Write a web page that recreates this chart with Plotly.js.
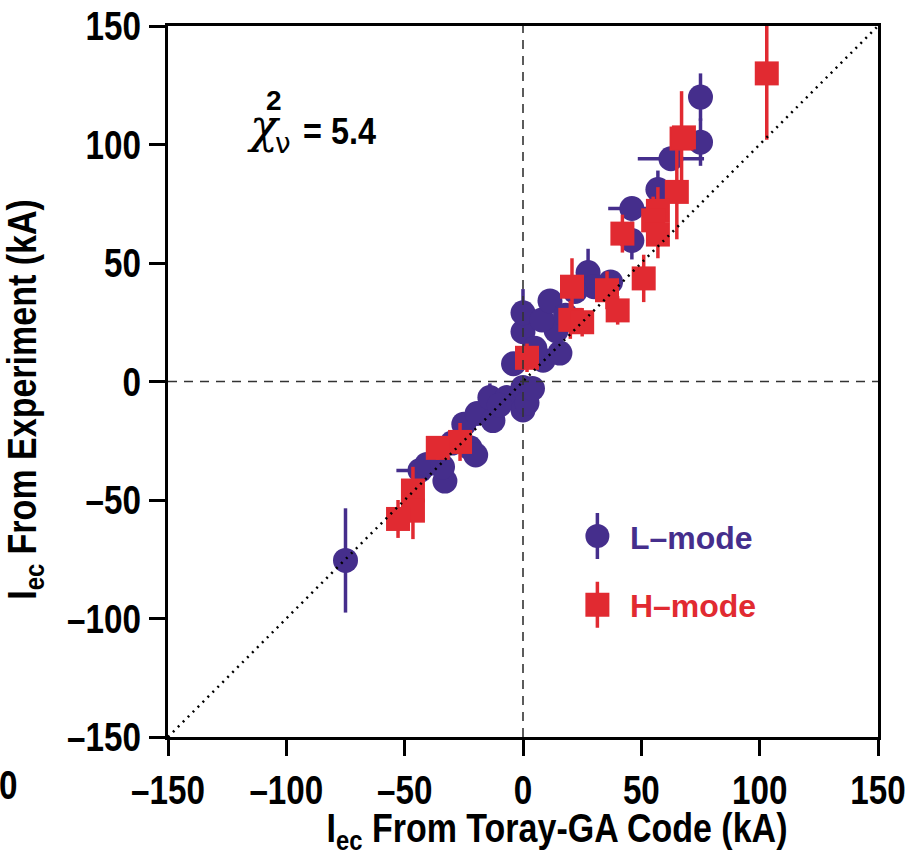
<!DOCTYPE html>
<html>
<head>
<meta charset="utf-8">
<script src="https://cdn.plot.ly/plotly-3.0.1.min.js"></script>
<style>html,body{margin:0;padding:0;background:#fff;}</style>
</head>
<body>
<div id="chart" style="width:918px;height:856px;"></div>
<script>
// ---- data ----
const lmodeX  = [-75, -43.5, -33, -40.6, -34, -22.4, -20, -25, -19.4, -12.7, -14, -6.8, 0, 0, 1.7, -4, 0, 0, 8.5, 15.6, 14, 8, 11.4, 18, 27.5, 37, 30, 22, 46, 46, 57, 62.5, 75, 75, 5, -30, -10, 4];
const lmodeY  = [-75.5, -37.5, -42, -35, -36, -28, -31, -18, -13.5, -16.5, -6.8, -6.8, -12, -2.5, -9, 7.5, 21, 29, 9, 12, 21.5, 26, 34, 28, 46, 42, 40, 38, 59.5, 73, 81, 94, 101, 120, 14, -26, -10, -3];
const lmodeEx = [0, 10, 0, 0, 0, 0, 0, 0, 0, 0, 0, 0, 0, 0, 0, 0, 0, 0, 0, 0, 0, 0, 0, 0, 0, 0, 0, 0, 0, 10, 0, 14, 0, 0, 0, 0, 0, 0];
const lmodeEy = [22, 6, 4, 0, 0, 4, 0, 0, 0, 0, 6, 0, 0, 0, 0, 0, 0, 10, 0, 0, 0, 0, 0, 0, 10, 0, 0, 0, 8, 0, 8, 0, 10, 10, 0, 0, 0, 0];

const hmodeX  = [103, 67, 65, 57, 55, 57, 42, 51, 35.5, 40, 20.7, 20, 25, 1.7, -26.6, -36, -46.5, -46.5, -52.8, 68];
const hmodeY  = [130, 102.5, 80, 72, 68, 62, 62.4, 43.5, 38.5, 30, 40, 26, 25, 10, -25.5, -28, -46, -54.5, -58, 103];
const hmodeEy = [28, 20, 20, 10, 10, 10, 8, 10, 8, 6, 12, 8, 6, 6, 8, 5, 10, 12, 8, 0];

const tickVals = [-150, -100, -50, 0, 50, 100, 150];
const tickText = ['\u2013150', '\u2013100', '\u201350', '0', '50', '100', '150'];
const seriesNames = ['L\u2013mode', 'H\u2013mode'];
const chiText = '5.4';

// ---- styles ----
const BLUE = '#452e8c';
const RED = '#e12a31';
const SANS = 'Liberation Sans, Arial, sans-serif';

const traces = [
  {
    type: 'scatter', mode: 'markers', name: '<span style="color:' + BLUE + '">' + seriesNames[0] + '</span>',
    legendgroup: 'l',
    x: lmodeX, y: lmodeY,
    error_x: {type: 'data', array: lmodeEx, visible: true, color: BLUE, thickness: 3.5, width: 0},
    error_y: {type: 'data', array: lmodeEy, visible: true, color: BLUE, thickness: 3.5, width: 0},
    marker: {symbol: 'circle', size: 25, color: BLUE, line: {width: 0}}
  },
  {
    type: 'scatter', mode: 'markers', name: '<span style="color:' + RED + '">' + seriesNames[1] + '</span>',
    legendgroup: 'h',
    x: hmodeX, y: hmodeY,
    error_y: {type: 'data', array: hmodeEy, visible: true, color: RED, thickness: 3.5, width: 0},
    marker: {symbol: 'square', size: 24, color: RED, line: {width: 0}}
  }
];

const axisCommon = {
  range: [-150, 150], tickmode: 'array', tickvals: tickVals, ticktext: tickText,
  ticks: 'outside', ticklen: 16, tickwidth: 3, tickcolor: '#000',
  showline: true, linewidth: 3, linecolor: '#000', mirror: true,
  showgrid: false, zeroline: false, automargin: false,
  tickfont: {family: SANS, size: 40, color: '#000', weight: 'bold'}
};

const layout = {
  width: 918, height: 856,
  margin: {l: 168, r: 40, t: 26, b: 119},
  paper_bgcolor: '#fff', plot_bgcolor: '#fff',
  showlegend: true,
  legend: {x: 0.559, y: 0.321, xanchor: 'left', yanchor: 'top', bgcolor: 'rgba(0,0,0,0)',
           font: {family: SANS, size: 32, weight: 'bold'}, tracegroupgap: 24, traceorder: 'grouped',
           itemwidth: 55},
  xaxis: Object.assign({}, axisCommon, {
    title: {text: 'I<sub>ec</sub> From Toray-GA Code (kA)', font: {family: SANS, size: 40, color: '#000', weight: 'bold'}, standoff: 8}
  }),
  yaxis: Object.assign({}, axisCommon, {
    title: {text: 'I<sub>ec</sub> From Experiment (kA)', font: {family: SANS, size: 40, color: '#000', weight: 'bold'}, standoff: 12}
  }),
  shapes: [
    {type: 'line', xref: 'x', yref: 'y', x0: -150, y0: -150, x1: 150, y1: 150, layer: 'above',
     line: {color: '#000', width: 2.5, dash: '2px,5px'}},
    {type: 'line', xref: 'x', yref: 'paper', x0: 0, x1: 0, y0: 0, y1: 1, layer: 'above',
     line: {color: '#333', width: 1.6, dash: '9px,7px'}},
    {type: 'line', xref: 'paper', yref: 'y', x0: 0, x1: 1, y0: 0, y1: 0, layer: 'above',
     line: {color: '#333', width: 1.6, dash: '9px,7px'}}
  ],
  annotations: [
    {xref: 'paper', yref: 'paper', x: 0.135, y: 0.859, xanchor: 'center', yanchor: 'middle', showarrow: false,
     text: '\u03C7', font: {family: 'DejaVu Serif, Liberation Serif, serif', size: 46, color: '#000', style: 'italic'}},
    {xref: 'paper', yref: 'paper', x: 0.149, y: 0.895, xanchor: 'center', yanchor: 'middle', showarrow: false,
     text: '2', font: {family: SANS, size: 28, color: '#000', weight: 'bold'}},
    {xref: 'paper', yref: 'paper', x: 0.162, y: 0.835, xanchor: 'center', yanchor: 'middle', showarrow: false,
     text: '\u03BD', font: {family: 'DejaVu Sans, sans-serif', size: 28, color: '#000'}},
    {xref: 'paper', yref: 'paper', x: 0.181, y: 0.852, xanchor: 'left', yanchor: 'middle', showarrow: false,
     text: '= ' + chiText, font: {family: SANS, size: 36, color: '#000', weight: 'bold'}},
    {xref: 'paper', yref: 'paper', x: -0.225, y: -0.068, xanchor: 'center', yanchor: 'middle', showarrow: false,
     text: '0', font: {family: SANS, size: 40, color: '#000', weight: 'bold'}}
  ]
};

function squeeze(el, f) {
  const L = el.getComputedTextLength();
  if (L > 0) {
    el.setAttribute('textLength', (L * f).toFixed(1));
    el.setAttribute('lengthAdjust', 'spacingAndGlyphs');
  }
}

Plotly.newPlot('chart', traces, layout, {displayModeBar: false, staticPlot: true}).then(function (gd) {
  // condensed look of the original lettering
  gd.querySelectorAll('.xtick text, .ytick text').forEach(t => squeeze(t, 0.83));
  gd.querySelectorAll('.g-xtitle text, .g-ytitle text').forEach(t => squeeze(t, 0.85));
  gd.querySelectorAll('.annotation-text').forEach(t => {
    if (t.textContent.indexOf('=') >= 0) squeeze(t, 0.9);
    if (t.textContent === '0') squeeze(t, 0.83);
  });
  const xt = gd.querySelector('.g-xtitle');
  if (xt) xt.setAttribute('transform', 'translate(34,-5)');
  const yt = gd.querySelector('.g-ytitle');
  if (yt) yt.setAttribute('transform', 'translate(8,18)');
  // legend symbols: larger marker with vertical bar
  const cols = [BLUE, RED];
  gd.querySelectorAll('.legend .traces').forEach((g, i) => {
    const pt = g.querySelector('path.scatterpts');
    if (!pt) return;
    const tr = pt.getAttribute('transform') || '';
    pt.setAttribute('transform', tr + ' scale(1.5)');
    const ns = 'http://www.w3.org/2000/svg';
    const bar = document.createElementNS(ns, 'path');
    bar.setAttribute('d', 'M0,-23V23');
    bar.setAttribute('transform', tr);
    bar.setAttribute('style', 'stroke:' + cols[i] + ';stroke-width:3.5px;fill:none');
    pt.parentNode.insertBefore(bar, pt);
  });
});
</script>
</body>
</html>
